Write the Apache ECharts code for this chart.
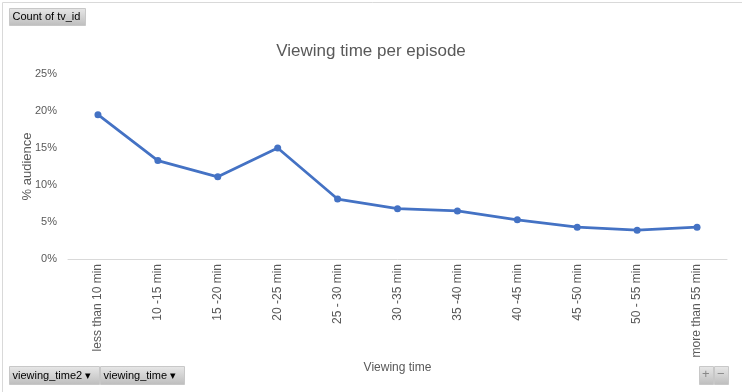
<!DOCTYPE html>
<html><head><meta charset="utf-8">
<script src="https://cdn.jsdelivr.net/npm/echarts@6/dist/echarts.min.js"></script>
<style>html,body{margin:0;padding:0;background:#fff}#c{width:742px;height:392px}</style>
</head><body><div id="c"></div>
<script>
const categories = ["less than 10 min","10 -15 min","15 -20 min","20 -25 min","25 - 30 min","30 -35 min","35 -40 min","40 -45 min","45 -50 min","50 - 55 min","more than 55 min"];
const audiencePct = [19.5, 13.3, 11.1, 15.0, 8.1, 6.8, 6.5, 5.3, 4.3, 3.9, 4.3];
const yTicks = [0, 5, 10, 15, 20, 25];

const chart = echarts.init(document.getElementById('c'), null, {renderer:'canvas'});
const font = 'Liberation Sans, Arial, sans-serif';
const btnFill = new echarts.graphic.LinearGradient(0,0,0,1,[{offset:0,color:'#e8e8e8'},{offset:1,color:'#bdbdbd'}]);
function btn(x,y,w,h,text){
  return {type:'group', left:x, top:y, children:[
    {type:'rect', shape:{x:0,y:0,width:w,height:h}, style:{fill:btnFill, stroke:'#c8c8c8', lineWidth:1}},
    {type:'text', x:3, y:h/2, style:{text:text, font:'11px '+font, fill:'#000', verticalAlign:'middle'}}
  ]};
}
chart.setOption({
  animation:false,
  title:{text:'Viewing time per episode', left:'center', top:38, textStyle:{fontFamily:font, fontSize:17, fontWeight:'normal', color:'#595959'}},
  grid:{left:68, right:15, top:74, bottom:133, containLabel:false},
  xAxis:{type:'category', data:categories, boundaryGap:true,
    name:'Viewing time', nameLocation:'middle', nameGap:103, nameMoveOverlap:false,
    nameTextStyle:{fontFamily:font, fontSize:12, color:'#595959'},
    axisLine:{lineStyle:{color:'#d9d9d9', width:1}}, axisTick:{show:false},
    axisLabel:{rotate:90, interval:0, margin:5, fontFamily:font, fontSize:12, color:'#595959'}},
  yAxis:{type:'value', min:yTicks[0], max:yTicks[yTicks.length-1], interval:5,
    name:'% audience', nameLocation:'middle', nameGap:34, nameRotate:90, nameMoveOverlap:false,
    nameTextStyle:{fontFamily:font, fontSize:13, color:'#595959'},
    axisLine:{show:false}, axisTick:{show:false}, splitLine:{show:false},
    axisLabel:{formatter:'{value}%', margin:11, fontFamily:font, fontSize:11, color:'#595959'}},
  series:[{type:'line', data:audiencePct, symbol:'circle', symbolSize:7,
    lineStyle:{color:'#4472c4', width:2.75}, itemStyle:{color:'#4472c4'}}],
  graphic:[
    {type:'rect', left:0, top:0, shape:{x:0,y:0,width:741,height:391}, style:{fill:'none', stroke:'#d9d9d9', lineWidth:1}, silent:true},
    btn(9,8,76,17,'Count of tv_id'),
    btn(9,366,90,18,'viewing_time2 \u25BE'),
    btn(100,366,84,18,'viewing_time \u25BE'),
    btn(699,366,14,18,''),
    btn(714,366,14,18,''),
    {type:'text', left:702, top:368, style:{text:'+', font:'13px '+font, fill:'#888'}},
    {type:'text', left:717, top:368, style:{text:'\u2212', font:'13px '+font, fill:'#888'}}
  ]
});
</script></body></html>
